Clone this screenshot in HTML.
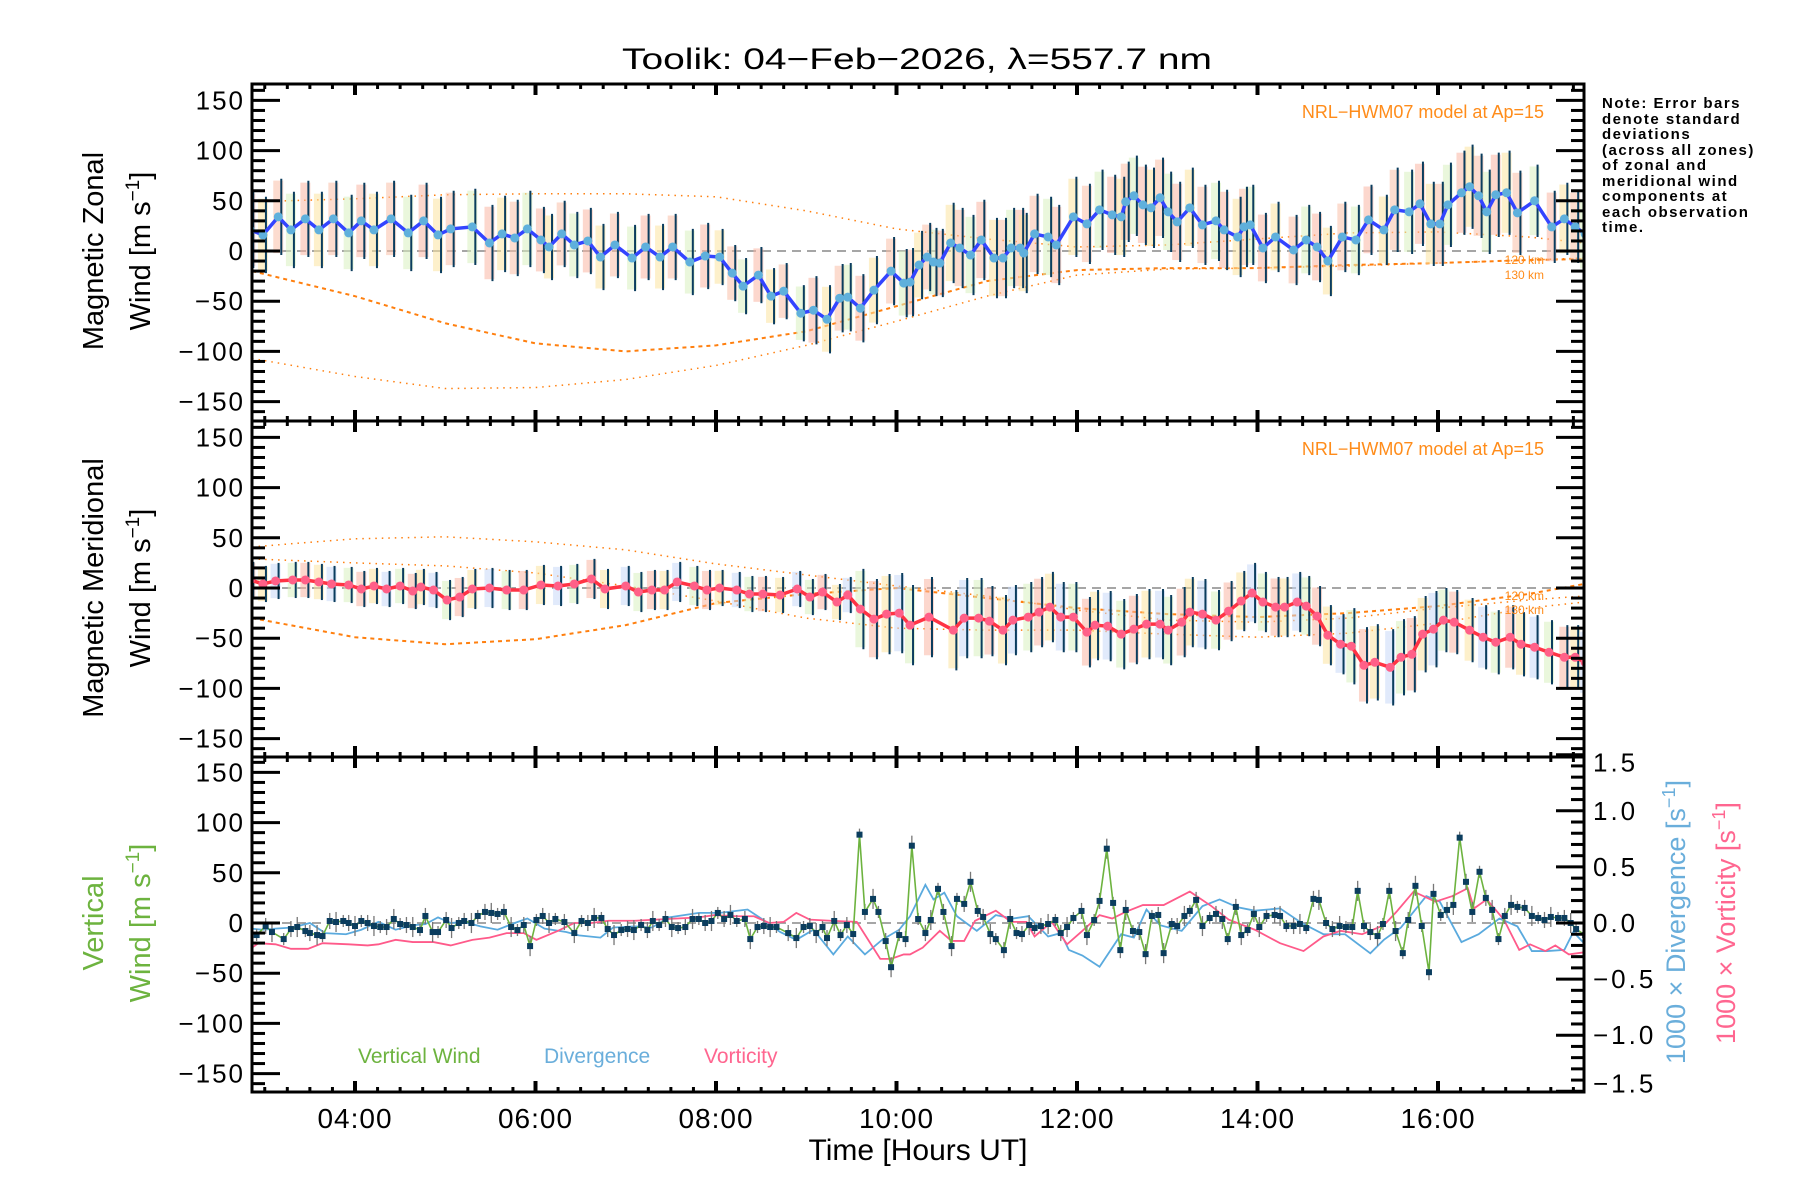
<!DOCTYPE html>
<html><head><meta charset="utf-8">
<style>
html,body{margin:0;padding:0;background:#fff;}
svg{display:block;font-family:"Liberation Sans",sans-serif;}
</style></head>
<body>
<svg id="chart" width="1800" height="1200" viewBox="0 0 1800 1200" xmlns="http://www.w3.org/2000/svg">
<defs>
<clipPath id="clip1"><rect x="252" y="84" width="1332" height="337"/></clipPath>
<clipPath id="clip2"><rect x="252" y="421" width="1332" height="336"/></clipPath>
<clipPath id="clip3"><rect x="252" y="757" width="1332" height="335"/></clipPath>
</defs>
<text x="917" y="69" font-size="30" text-anchor="middle" textLength="590" lengthAdjust="spacingAndGlyphs">Toolik: 04−Feb−2026, λ=557.7 nm</text>
<g id="g1" clip-path="url(#clip1)"></g>
<g id="g2" clip-path="url(#clip2)"></g>
<g id="g3" clip-path="url(#clip3)"></g>
<g id="axes"></g>

<text transform="translate(103,251) rotate(-90)" font-size="29" text-anchor="middle">Magnetic Zonal</text>
<text transform="translate(150,251) rotate(-90)" font-size="29" text-anchor="middle">Wind [m s<tspan font-size="19" dy="-11">−1</tspan><tspan dy="11">]</tspan></text>
<text transform="translate(103,588) rotate(-90)" font-size="29" text-anchor="middle">Magnetic Meridional</text>
<text transform="translate(150,588) rotate(-90)" font-size="29" text-anchor="middle">Wind [m s<tspan font-size="19" dy="-11">−1</tspan><tspan dy="11">]</tspan></text>
<text transform="translate(103,923) rotate(-90)" font-size="29" text-anchor="middle" fill="#6db33f">Vertical</text>
<text transform="translate(150,923) rotate(-90)" font-size="29" text-anchor="middle" fill="#6db33f">Wind [m s<tspan font-size="19" dy="-11">−1</tspan><tspan dy="11">]</tspan></text>
<text transform="translate(1685,922) rotate(-90)" font-size="27" text-anchor="middle" fill="#6aaedb">1000 × Divergence [s<tspan font-size="18" dy="-10">−1</tspan><tspan dy="10">]</tspan></text>
<text transform="translate(1735,923) rotate(-90)" font-size="27" text-anchor="middle" fill="#ff6690">1000 × Vorticity [s<tspan font-size="18" dy="-10">−1</tspan><tspan dy="10">]</tspan></text>

<text x="1544" y="118" font-size="18" text-anchor="end" fill="#ff8c1a">NRL−HWM07 model at Ap=15</text>
<text x="1544" y="455" font-size="18" text-anchor="end" fill="#ff8c1a">NRL−HWM07 model at Ap=15</text>
<text x="1544" y="264" font-size="12" text-anchor="end" fill="#ff8c1a">120 km</text>
<text x="1544" y="279" font-size="12" text-anchor="end" fill="#ff8c1a">130 km</text>
<text x="1544" y="600" font-size="12" text-anchor="end" fill="#ff8c1a">120 km</text>
<text x="1544" y="614" font-size="12" text-anchor="end" fill="#ff8c1a">130 km</text>

<g font-size="15" font-weight="bold" fill="#000" letter-spacing="1.5">
<text x="1602" y="108">Note: Error bars</text>
<text x="1602" y="124">denote standard</text>
<text x="1602" y="139">deviations</text>
<text x="1602" y="155">(across all zones)</text>
<text x="1602" y="170">of zonal and</text>
<text x="1602" y="186">meridional wind</text>
<text x="1602" y="201">components at</text>
<text x="1602" y="217">each observation</text>
<text x="1602" y="232">time.</text>
</g>

<text x="358" y="1063" font-size="21" fill="#6db33f">Vertical Wind</text>
<text x="544" y="1063" font-size="21" fill="#6aaedb">Divergence</text>
<text x="704" y="1063" font-size="21" fill="#ff6690">Vorticity</text>

<text x="918" y="1160" font-size="30" text-anchor="middle">Time [Hours UT]</text>
</svg>
<script>
// ---------- data ----------
const xTickLabels = ["04:00","06:00","08:00","10:00","12:00","14:00","16:00"];
const xTickHours = [4,6,8,10,12,14,16];
const windTickValues = [150,100,50,0,-50,-100,-150];
const rightTickValues = [1.5,1.0,0.5,0.0,-0.5,-1.0,-1.5];

const zonalT = [2.84,2.98,3.15,3.29,3.45,3.60,3.76,3.93,4.07,4.21,4.40,4.59,4.76,4.92,5.06,5.30,5.49,5.63,5.77,5.91,6.06,6.15,6.29,6.43,6.58,6.72,6.88,7.07,7.22,7.38,7.52,7.71,7.88,8.04,8.18,8.30,8.47,8.61,8.75,8.94,9.08,9.23,9.37,9.46,9.60,9.75,9.94,10.08,10.15,10.25,10.34,10.41,10.48,10.60,10.70,10.82,10.94,11.08,11.18,11.27,11.37,11.41,11.53,11.68,11.77,11.96,12.11,12.25,12.39,12.49,12.54,12.63,12.73,12.82,12.92,13.01,13.11,13.25,13.39,13.54,13.63,13.78,13.85,13.92,14.06,14.20,14.40,14.54,14.66,14.78,14.94,15.09,15.23,15.40,15.52,15.68,15.80,15.92,16.02,16.11,16.26,16.35,16.45,16.54,16.64,16.76,16.88,17.07,17.26,17.40,17.52,17.63];
const zonalV = [21,16,34,21,32,21,32,18,30,21,32,18,30,16,22,24,8,17,13,22,11,4,17,6,10,-6,6,-7,4,-6,4,-11,-5,-6,-22,-35,-24,-45,-40,-62,-59,-68,-47,-46,-57,-39,-20,-32,-31,-14,-6,-11,-12,8,3,-4,11,-7,-7,3,3,-2,17,14,6,34,27,41,36,34,49,55,46,43,53,39,29,43,26,30,21,14,24,26,3,14,1,11,4,-10,14,11,31,21,41,39,47,27,27,46,58,64,55,39,56,58,38,50,24,32,24,17];
const zonalErrStepT = [2.8,6.0,8.0,9.0,10.5,12.0,14.0,15.5,17.0];
const zonalErrStepV = [38,33,28,34,40,40,35,42,36];

const meridT = [2.84,2.98,3.12,3.31,3.45,3.60,3.74,3.93,4.07,4.21,4.35,4.50,4.64,4.73,4.87,5.02,5.16,5.30,5.49,5.68,5.87,6.06,6.25,6.43,6.62,6.77,7.00,7.14,7.29,7.43,7.57,7.76,7.90,8.04,8.23,8.37,8.52,8.71,8.90,9.04,9.18,9.34,9.46,9.60,9.75,9.89,10.03,10.15,10.36,10.63,10.75,10.91,11.03,11.18,11.29,11.46,11.58,11.70,11.82,11.96,12.11,12.20,12.34,12.49,12.63,12.77,12.92,13.01,13.16,13.25,13.39,13.54,13.68,13.82,13.94,14.06,14.20,14.30,14.44,14.54,14.66,14.78,14.92,15.04,15.18,15.30,15.47,15.59,15.71,15.83,15.95,16.06,16.18,16.35,16.50,16.64,16.80,16.92,17.07,17.23,17.40,17.52,17.63];
const meridV = [8,4,7,8,8,6,4,3,-1,2,-1,2,-3,1,-2,-12,-9,-1,0,-2,-2,3,2,4,9,-1,2,-4,-2,-2,6,2,-2,0,-2,-6,-6,-7,-1,-9,-4,-14,-7,-21,-31,-26,-25,-37,-29,-42,-30,-30,-33,-42,-32,-29,-24,-19,-29,-29,-44,-37,-38,-46,-41,-36,-36,-42,-34,-24,-26,-32,-23,-13,-5,-14,-19,-19,-14,-18,-28,-47,-56,-58,-77,-74,-79,-69,-66,-46,-41,-32,-34,-42,-49,-54,-49,-56,-59,-64,-69,-69,-74];
const meridErrStepT = [2.8,5.0,8.0,9.5,11.0,13.5,15.0,16.0];
const meridErrStepV = [18,20,18,40,35,30,38,32];

const modelT = [2.86,4,5,6,7,8,9,10,11,12,13,14,15,16,17,17.62];
const zonalModel120 = [-20,-45,-72,-92,-100,-94,-80,-55,-30,-19,-17,-17,-14,-12,-9,-8];
const zonalModel130 = [-107,-125,-137,-136,-128,-114,-94,-70,-45,-24,-18,-17,-15,-12,-9,-7];
const zonalModelUpper = [49,52,56,57,57,54,40,22,12,4,6,12,18,19,14,8];
const meridModel120 = [-30,-49,-56,-51,-37,-15,-6,0,-10,-20,-26,-29,-25,-18,-6,4];
const meridModelUpper = [41,49,51,46,38,24,13,2,-8,-22,-32,-34,-30,-20,-12,-8];
const meridModelMid = [29,25,22,15,2,-13,-30,-40,-42,-42,-46,-49,-45,-35,-20,-14];

const vertT = [2.91,3.01,3.08,3.21,3.29,3.36,3.45,3.50,3.58,3.64,3.72,3.79,3.87,3.93,4.00,4.07,4.14,4.21,4.28,4.35,4.43,4.50,4.57,4.64,4.72,4.78,4.86,4.92,5.01,5.07,5.15,5.21,5.29,5.36,5.44,5.51,5.58,5.65,5.73,5.80,5.87,5.94,6.01,6.08,6.15,6.22,6.32,6.43,6.51,6.58,6.65,6.73,6.80,6.87,6.95,7.02,7.09,7.17,7.24,7.30,7.37,7.44,7.51,7.58,7.66,7.74,7.81,7.88,7.95,8.02,8.09,8.16,8.23,8.32,8.38,8.46,8.53,8.60,8.67,8.80,8.89,8.97,9.04,9.11,9.18,9.23,9.31,9.38,9.45,9.52,9.59,9.65,9.74,9.80,9.88,9.94,10.03,10.10,10.17,10.24,10.32,10.38,10.46,10.52,10.61,10.67,10.75,10.82,10.90,10.96,11.04,11.10,11.19,11.26,11.33,11.39,11.47,11.53,11.60,11.68,11.76,11.82,11.89,11.96,12.05,12.11,12.19,12.25,12.33,12.40,12.48,12.54,12.62,12.69,12.76,12.83,12.90,12.96,13.05,13.11,13.19,13.25,13.32,13.39,13.47,13.54,13.61,13.67,13.76,13.82,13.89,13.96,14.02,14.10,14.19,14.25,14.32,14.40,14.47,14.54,14.62,14.68,14.76,14.83,14.91,14.98,15.05,15.11,15.18,15.25,15.33,15.39,15.46,15.53,15.61,15.67,15.75,15.82,15.90,15.95,16.03,16.10,16.17,16.24,16.31,16.38,16.46,16.53,16.60,16.67,16.74,16.81,16.88,16.96,17.04,17.11,17.18,17.25,17.33,17.40,17.47,17.53,17.63];
const vertV = [-12,-3,-9,-16,-6,-4,-8,-10,-12,-13,2,1,2,0,-3,2,0,-3,-4,-4,4,-1,-2,-4,-7,7,-9,-9,3,-5,0,2,0,7,11,10,9,11,-4,-7,-2,-23,3,7,0,4,1,-10,2,0,5,5,-6,-12,-7,-6,-7,-2,-7,2,-2,4,-4,-5,-4,4,4,0,2,10,4,8,2,4,-16,-4,-3,-4,-4,-10,-15,-4,-3,-10,-4,-15,2,-12,-2,-11,88,11,24,11,-18,-44,-12,-16,77,4,-10,3,34,11,-23,24,19,41,12,6,-11,-16,-27,4,-10,-11,-2,-5,-3,-1,3,-10,-4,5,12,-12,3,22,74,20,-27,13,-8,-9,-31,7,8,-30,-1,-3,7,12,23,-3,5,9,4,-16,16,-12,-7,9,-4,7,8,7,-3,-3,-1,-5,24,23,0,-6,-3,-4,-4,32,-3,-9,-13,-1,32,-8,-30,3,37,-3,-49,29,8,13,18,85,41,11,51,25,13,-16,7,18,16,15,7,5,3,6,5,5,0,-6,-12];
const vertErr = [6,8,10];

const divT = [2.84,2.98,3.12,3.31,3.50,3.67,3.90,4.07,4.26,4.45,4.64,4.78,4.92,5.06,5.21,5.39,5.58,5.77,5.91,6.10,6.34,6.48,6.72,6.86,7.10,7.29,7.48,7.81,8.04,8.35,8.52,8.71,8.89,9.08,9.30,9.46,9.65,9.84,10.03,10.15,10.32,10.41,10.53,10.67,10.89,11.10,11.29,11.46,11.68,11.82,11.91,12.06,12.25,12.49,12.63,12.77,12.92,13.16,13.39,13.58,13.78,13.97,14.25,14.49,14.73,14.97,15.25,15.40,15.59,15.87,16.02,16.26,16.45,16.68,16.88,17.04,17.21,17.40,17.50,17.63];
const divV = [-0.05,-0.06,-0.05,-0.04,0.00,-0.09,-0.10,-0.06,0.01,-0.06,-0.02,-0.01,0.05,0.00,0.01,-0.03,-0.06,0.00,0.04,-0.05,-0.08,-0.11,-0.13,-0.04,-0.03,-0.04,0.05,0.09,0.09,0.12,0.03,-0.08,-0.15,-0.06,-0.28,-0.12,-0.28,-0.15,-0.06,0.06,0.34,0.21,0.27,0.06,-0.07,0.07,0.04,0.06,-0.12,-0.09,-0.24,-0.29,-0.39,-0.10,-0.13,0.12,-0.02,-0.07,0.15,0.21,0.14,0.11,0.13,0.00,-0.10,-0.10,-0.27,-0.15,-0.04,0.24,0.19,-0.17,-0.10,0.04,-0.03,-0.25,-0.25,-0.24,-0.08,-0.19];

const vortT = [2.84,2.93,3.12,3.29,3.48,3.64,3.93,4.14,4.26,4.45,4.64,4.87,5.06,5.30,5.49,5.68,5.87,6.01,6.25,6.43,6.62,6.81,7.10,7.33,7.57,7.81,7.98,8.23,8.42,8.59,8.75,8.89,9.04,9.27,9.56,9.82,9.94,10.08,10.15,10.29,10.48,10.61,10.75,10.87,11.10,11.27,11.44,11.53,11.72,11.89,12.06,12.25,12.39,12.54,12.73,12.96,13.25,13.49,13.68,13.97,14.25,14.51,14.73,14.92,15.16,15.40,15.54,15.73,15.97,16.16,16.33,16.40,16.54,16.73,16.90,17.02,17.19,17.30,17.45,17.63];
const vortV = [-0.23,-0.18,-0.19,-0.23,-0.23,-0.18,-0.19,-0.20,-0.19,-0.15,-0.17,-0.17,-0.20,-0.15,-0.13,-0.09,-0.09,-0.15,-0.07,0.00,0.00,0.02,0.02,0.03,0.04,0.05,0.07,0.06,0.06,0.00,0.01,0.09,0.03,0.02,0.01,-0.32,-0.32,-0.28,-0.28,-0.22,-0.07,-0.16,-0.16,0.02,0.11,0.01,0.01,-0.12,0.01,-0.19,-0.07,0.07,0.04,0.10,0.16,0.16,0.28,0.15,0.03,-0.06,-0.18,-0.25,-0.12,-0.07,-0.10,-0.02,0.10,0.28,0.19,0.24,0.31,0.13,0.21,0.03,-0.24,-0.19,-0.25,-0.20,-0.28,-0.26];

// ---------- scales ----------
const X0 = 252, X1 = 1584;
const tops = [84, 421, 757], bots = [421, 757, 1092], centers = [251, 588, 923];
const X = t => 355 + (t - 4) * 90.25;
const Y = (p, v) => centers[p] - v * 1.004;
const YR = v => 923 - v * 112.2;
const NS = "http://www.w3.org/2000/svg";
function mk(tag, attrs, parent) {
  const e = document.createElementNS(NS, tag);
  for (const k in attrs) e.setAttribute(k, attrs[k]);
  parent.appendChild(e);
  return e;
}
function stepLookup(ts, vs, t) { let v = vs[0]; for (let i = 0; i < ts.length; i++) if (t >= ts[i]) v = vs[i]; return v; }
const g1 = document.getElementById('g1'), g2 = document.getElementById('g2'), g3 = document.getElementById('g3'), ax = document.getElementById('axes');

[g1, g2, g3].forEach((g, p) => {
  const l = mk('line', {x1: X0, x2: X1, y1: centers[p], y2: centers[p], stroke: '#888', 'stroke-width': 1.5, 'stroke-dasharray': '9,6'}, g);
  
  
});

function windPanel(g, p, T, V, eT, eV, lineCol, dotCol, bandCols) {
  T.forEach((t, i) => {
    const e = stepLookup(eT, eV, t);
    const r = mk('rect', {x: X(t) - 5, y: Y(p, V[i] + e * 0.95), width: 10, height: e * 1.9 * 1.004, fill: bandCols[i % bandCols.length], opacity: 0.55}, g);
    
    
  });
  T.forEach((t, i) => {
    const e = stepLookup(eT, eV, t);
    const l = mk('line', {x1: X(t) + 3, x2: X(t) + 3, y1: Y(p, V[i] + e), y2: Y(p, V[i] - e), stroke: '#0b3d5e', 'stroke-width': 2}, g);
    
    
  });
  const pl = mk('polyline', {points: T.map((t, i) => X(t) + ',' + Y(p, V[i])).join(' '), fill: 'none', stroke: lineCol, 'stroke-width': 3.5}, g);
  
  
  T.forEach((t, i) => {
    const c = mk('circle', {cx: X(t), cy: Y(p, V[i]), r: 4.5, fill: dotCol}, g);
    
    
  });
}
function modelLine(g, p, vals, dash, w) {
  const pl = mk('polyline', {points: modelT.map((t, i) => X(t) + ',' + Y(p, vals[i])).join(' '), fill: 'none', stroke: '#ff7f0e', 'stroke-width': w, 'stroke-dasharray': dash}, g);
  
  
}
modelLine(g1, 0, zonalModelUpper, '1.5,5', 1.5);
modelLine(g1, 0, zonalModel120, '4,4', 2);
modelLine(g1, 0, zonalModel130, '1.5,5', 1.5);
modelLine(g2, 1, meridModelUpper, '1.5,5', 1.5);
modelLine(g2, 1, meridModelMid, '1.5,5', 1.5);
modelLine(g2, 1, meridModel120, '4,4', 2);
windPanel(g1, 0, zonalT, zonalV, zonalErrStepT, zonalErrStepV, '#3344ff', '#5fb0dc', ['#f9b7a4', '#fbe3a0', '#f9c0a8', '#d8f0c0']);
windPanel(g2, 1, meridT, meridV, meridErrStepT, meridErrStepV, '#ff3344', '#ff6088', ['#f9b7a4', '#fbe3a0', '#c8d8f8', '#d8f0c0']);

const dl = mk('polyline', {points: divT.map((t, i) => X(t) + ',' + YR(divV[i])).join(' '), fill: 'none', stroke: '#5aaade', 'stroke-width': 1.8}, g3);


const vl = mk('polyline', {points: vortT.map((t, i) => X(t) + ',' + YR(vortV[i])).join(' '), fill: 'none', stroke: '#ff5a8a', 'stroke-width': 1.8}, g3);


vertT.forEach((t, i) => {
  const e = vertErr[i % vertErr.length];
  const l = mk('line', {x1: X(t), x2: X(t), y1: Y(2, vertV[i] + e), y2: Y(2, vertV[i] - e), stroke: '#777', 'stroke-width': 1.3}, g3);
  
  
});
const gl = mk('polyline', {points: vertT.map((t, i) => X(t) + ',' + Y(2, vertV[i])).join(' '), fill: 'none', stroke: '#6db33f', 'stroke-width': 1.6}, g3);


vertT.forEach((t, i) => {
  const r = mk('rect', {x: X(t) - 3, y: Y(2, vertV[i]) - 3, width: 6, height: 6, fill: '#0b3d5e'}, g3);
  
  
});

// ---------- axes ----------
for (let p = 0; p < 3; p++) {
  const fr = mk('rect', {x: X0, y: tops[p], width: X1 - X0, height: bots[p] - tops[p], fill: 'none', stroke: '#000', 'stroke-width': 3}, ax);
  
  
  for (let v = -160; v <= 160; v += 10) {
    const y = Y(p, v);
    if (y < tops[p] + 2 || y > bots[p] - 2) continue;
    const L = (v % 50 === 0) ? 28 : 13;
    const t1 = mk('line', {x1: X0, x2: X0 + L, y1: y, y2: y, stroke: '#000', 'stroke-width': 3}, ax);
    
    
    if (p < 2) {
      const t2 = mk('line', {x1: X1, x2: X1 - L, y1: y, y2: y, stroke: '#000', 'stroke-width': 3}, ax);
      
      
    }
  }
  windTickValues.forEach(v => {
    const tx = mk('text', {x: 245, y: Y(p, v) + 9, 'font-size': 26, 'text-anchor': 'end', 'letter-spacing': 2}, ax);
    tx.textContent = v < 0 ? '−' + Math.abs(v) : String(v);
    
    
  });
}
for (let k = -15; k <= 15; k++) {
  const v = k / 10, y = YR(v);
  const L = (k % 5 === 0) ? 28 : 13;
  const t2 = mk('line', {x1: X1, x2: X1 - L, y1: y, y2: y, stroke: '#000', 'stroke-width': 3}, ax);
  
  
}
rightTickValues.forEach(v => {
  let y = YR(v);
  if (v >= 1.5) y += 8;
  if (v <= -1.5) y -= 8;
  const tx = mk('text', {x: 1593, y: y + 9, 'font-size': 26, 'letter-spacing': 3}, ax);
  tx.textContent = (v < 0 ? '−' : '') + Math.abs(v).toFixed(1);
  
  
});
for (let q = 12; q <= 70; q++) {
  const t = q / 4, x = X(t);
  if (x < X0 + 2 || x > X1 - 2) continue;
  const major = (q % 8 === 0);
  [84, 421, 757, 1092].forEach((yy, j) => {
    const L = major ? 11 : 5;
    if (j < 3) { const a = mk('line', {x1: x, x2: x, y1: yy, y2: yy + L, stroke: '#000', 'stroke-width': major ? 4 : 3}, ax);   }
    if (j > 0) { const b = mk('line', {x1: x, x2: x, y1: yy, y2: yy - L, stroke: '#000', 'stroke-width': major ? 4 : 3}, ax);   }
  });
}
xTickLabels.forEach((lab, i) => {
  const tx = mk('text', {x: X(xTickHours[i]), y: 1128, 'font-size': 28, 'text-anchor': 'middle', 'letter-spacing': 1}, ax);
  tx.textContent = lab;
  
  
});
</script>
</body></html>
